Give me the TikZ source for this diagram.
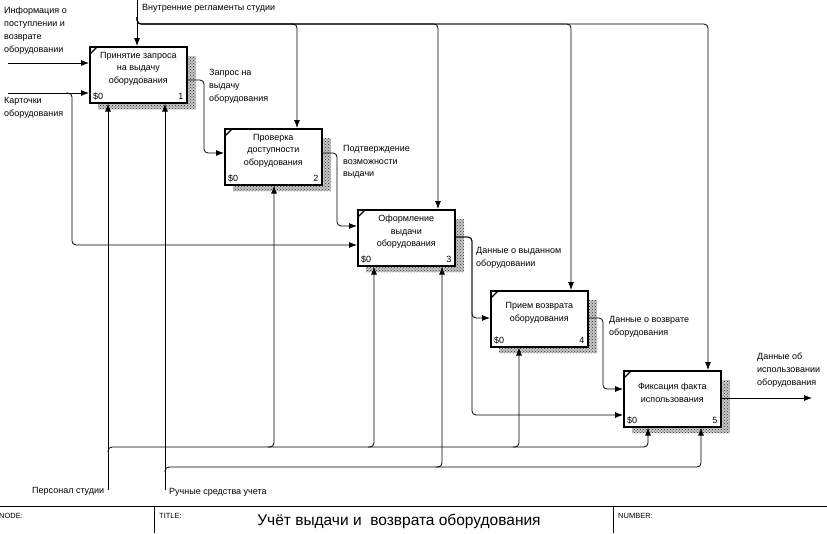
\documentclass[tikz,border=0pt]{standalone}
\usepackage{fontspec}
\setmainfont{Liberation Sans}
\usetikzlibrary{arrows.meta,calc,patterns}
\newcommand\idefbox[4]{%
  \fill[shadow] ($(#2)+(9,10)$) rectangle ($(#2)+(107,63)$);
  \node[fn] (#1) at (#2) {};
  \draw[line width=1.1pt] ($(#1.north west)+(1,8)$) -- ($(#1.north west)+(8,1)$);
  \node[boxtxt] at ($(#1.center)+(0,-6)$) {#3};
  \node[small, anchor=base west] at ($(#1.south west)+(4,-4)$) {\$0};
  \node[small, anchor=base east] at ($(#1.south east)+(-4,-4)$) {#4};
}
\begin{document}
\begin{tikzpicture}[x=1pt,y=-1pt,
  small/.style={font=\fontsize{9}{12.5}\selectfont, inner sep=0pt},
  lbl/.style={font=\fontsize{9}{12.8}\selectfont, align=left, inner sep=0pt, anchor=north west},
  boxtxt/.style={font=\fontsize{9}{12.5}\selectfont, align=center, inner sep=0pt},
  fn/.style={draw=black, line width=1.6pt, fill=white, minimum width=97pt, minimum height=56pt, inner sep=0pt, anchor=north west},
  arr/.style={line width=0.8pt, rounded corners=4pt, -{Latex[length=8pt,width=6pt]}},
  ln/.style={line width=0.8pt},
  shadow/.style={fill=gray!45, postaction={pattern=crosshatch dots, pattern color=black!80}},
  tb/.style={font=\fontsize{7.5}{9}\selectfont, inner sep=0pt, anchor=west},
]
\useasboundingbox (0,0) rectangle (827,533);

% boxes
\idefbox{b1}{89,46}{Принятие запроса\\на выдачу\\оборудования}{1}
\idefbox{b2}{224,128}{Проверка\\доступности\\оборудования}{2}
\idefbox{b3}{357,209}{Оформление\\выдачи\\оборудования}{3}
\idefbox{b4}{490,290}{Прием возврата\\оборудования}{4}
\idefbox{b5}{623,370}{Фиксация факта\\использования}{5}

% helper coordinates
\coordinate (ctlbus) at (0,24);
\coordinate (bus1) at (0,447);
\coordinate (bus2) at (0,467);

% controls
\coordinate (ctlsrc) at (137,0);
\coordinate (cj) at (137,17);
\coordinate (b1c) at ($(b1.north west)+(48,0)$);
\coordinate (b2c) at ($(b2.north west)+(73,0)$);
\coordinate (b3c) at ($(b3.north west)+(81,0)$);
\coordinate (b4c) at ($(b4.north west)+(81,0)$);
\coordinate (b5c) at ($(b5.north west)+(85,0)$);
\draw[arr] (ctlsrc) -- (b1c);
\foreach \t in {b2c,b3c,b4c,b5c} \draw[arr] (cj) |- (\t |- ctlbus) -- (\t);

% inputs
\coordinate (infoSrc) at (8,63);
\coordinate (cardSrc) at (8,93);
\coordinate (kj) at (66,93);
\coordinate (kx) at (72,0);
\coordinate (b1i1) at ($(b1.north west)+(0,17)$);
\coordinate (b1i2) at ($(b1.north west)+(0,47)$);
\coordinate (b2i) at ($(b2.north west)+(0,25)$);
\coordinate (b3i1) at ($(b3.north west)+(0,17)$);
\coordinate (b3i2) at ($(b3.north west)+(0,36)$);
\coordinate (b4i) at ($(b4.north west)+(0,28)$);
\coordinate (b5i1) at ($(b5.north west)+(0,19)$);
\coordinate (b5i2) at ($(b5.north west)+(0,45)$);
\draw[arr] (infoSrc) -- (b1i1);
\draw[arr] (cardSrc) -- (b1i2);
\draw[arr] (kj) -| (kx |- b3i2) -- (b3i2);

% outputs
\coordinate (b1o) at ($(b1.north east)+(0,34)$);
\coordinate (b2o) at ($(b2.north east)+(0,25)$);
\coordinate (b3o) at ($(b3.north east)+(0,28)$);
\coordinate (b4o) at ($(b4.north east)+(0,28)$);
\coordinate (b5o) at ($(b5.north east)+(0,28)$);
\coordinate (outEnd) at (812,398);
\draw[arr] (b1o) -| ($(b2i)+(-20,0)$) -- (b2i);
\draw[arr] (b2o) -| ($(b3i1)+(-20,0)$) -- (b3i1);
\draw[arr] (b3o) -| ($(b4i)+(-18,0)$) -- (b4i);
\draw[arr] (b3o) -| ($(b4i)+(-18,0)$) |- (b5i2);
\draw[arr] (b4o) -| ($(b5i1)+(-20,0)$) -- (b5i1);
\draw[arr] (b5o) -- (outEnd);

% mechanisms
\coordinate (b1m1) at ($(b1.south west)+(19,0)$);
\coordinate (b1m2) at ($(b1.south west)+(76,0)$);
\coordinate (b2m) at ($(b2.south west)+(50,0)$);
\coordinate (b3m1) at ($(b3.south west)+(17,0)$);
\coordinate (b3m2) at ($(b3.south west)+(85,0)$);
\coordinate (b4m) at ($(b4.south west)+(29,0)$);
\coordinate (b5m1) at ($(b5.south west)+(25,0)$);
\coordinate (b5m2) at ($(b5.south west)+(78,0)$);
\coordinate (persSrc) at (108,490);
\coordinate (ruchSrc) at (165,490);
\coordinate (pj) at (108,452);
\coordinate (rj) at (165,472);
\draw[arr] (persSrc) -- (b1m1);
\draw[arr] (ruchSrc) -- (b1m2);
\draw[arr] (pj) |- (b5m1 |- bus1) -- (b5m1);
\draw[arr] (rj) |- (b5m2 |- bus2) -- (b5m2);
\foreach \m in {b2m,b3m1,b4m} \draw[arr] ($(\m |- bus1)+(-6,0)$) -| (\m);
\draw[arr] ($(b3m2 |- bus2)+(-6,0)$) -| (b3m2);

% labels
\node[lbl] (tInfo) at (4,7) {Информация о\\поступлении и\\возврате\\оборудовании};
\node[lbl] (tCard) at (4,97) {Карточки\\оборудования};
\node[lbl] (tCtl) at (142,4) {Внутренние регламенты студии};
\node[lbl] (tO1) at (209,69) {Запрос на\\выдачу\\оборудования};
\node[lbl] (tO2) at (343,145) {Подтверждение\\возможности\\выдачи};
\node[lbl] (tO3) at (476,247) {Данные о выданном\\оборудовании};
\node[lbl] (tO4) at (609,316) {Данные о возврате\\оборудования};
\node[lbl] (tO5) at (757,353) {Данные об\\использовании\\оборудования};
\node[lbl] (tPers) at (32,487) {Персонал студии};
\node[lbl] (tRuch) at (169,488) {Ручные средства учета};

% title block
\coordinate (tbL) at (0,506);
\coordinate (tbR) at (827,506);
\coordinate (d1t) at (154,506);
\coordinate (d1b) at (154,533);
\coordinate (d2t) at (613,506);
\coordinate (d2b) at (613,533);
\draw[ln] (tbL) -- (tbR);
\draw[ln] (d1t) -- (d1b);
\draw[ln] (d2t) -- (d2b);
\node[tb] (tNode) at (-1,516) {NODE:};
\node[tb] (tTitleL) at (159,516) {TITLE:};
\node[tb] (tNum) at (618,516) {NUMBER:};
\node[inner sep=0pt, font=\fontsize{15.5}{17}\selectfont] (tTitle) at (399,521) {Учёт выдачи и\ \ возврата оборудования};
\end{tikzpicture}
\end{document}
